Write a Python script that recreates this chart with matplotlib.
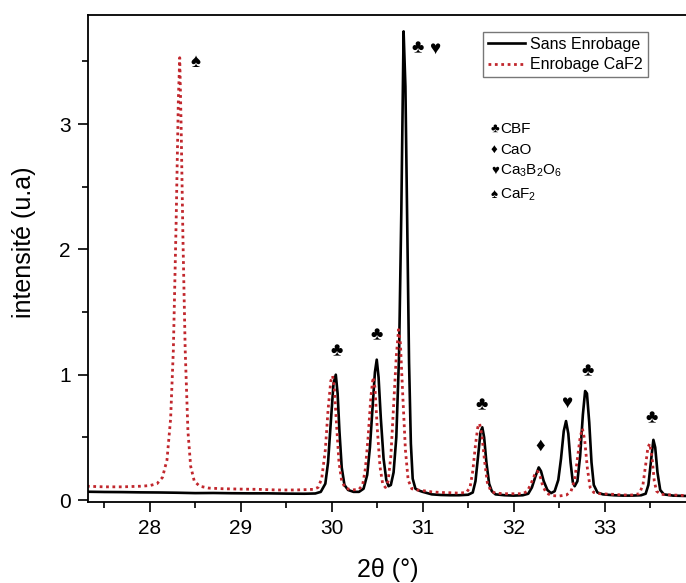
import matplotlib
matplotlib.use("Agg")
import matplotlib.pyplot as plt
from matplotlib.ticker import FixedLocator, MultipleLocator

plt.rcParams['font.family'] = ['Liberation Sans', 'DejaVu Sans']
plt.rcParams['mathtext.fontset'] = 'custom'
plt.rcParams['mathtext.rm'] = 'Liberation Sans'

# ---- data ----
sans_x = [27.31, 27.5, 27.7, 27.9, 28.1, 28.3, 28.5, 28.7, 28.9, 29.1, 29.3, 29.5, 29.7, 29.82,
          29.88, 29.93, 29.96, 29.99, 30.02, 30.045, 30.065, 30.085, 30.11, 30.14, 30.18, 30.24, 30.30, 30.35,
          30.39, 30.42, 30.45, 30.475, 30.495, 30.515, 30.54, 30.57, 30.60, 30.625, 30.65, 30.68, 30.71,
          30.74, 30.765, 30.79, 30.81, 30.83, 30.85, 30.87, 30.89, 30.92, 30.96, 31.0, 31.05, 31.1, 31.2,
          31.3, 31.4, 31.5,
          31.55, 31.58, 31.61, 31.635, 31.655, 31.675, 31.70, 31.73, 31.76, 31.80, 31.9, 32.0, 32.1, 32.16,
          32.20, 32.24, 32.275, 32.30, 32.33, 32.37, 32.41, 32.45, 32.49, 32.52, 32.55, 32.575, 32.60,
          32.625, 32.65, 32.67, 32.70, 32.73, 32.76, 32.785, 32.805, 32.83, 32.855, 32.88, 32.92, 32.98,
          33.1, 33.2, 33.3, 33.4, 33.45,
          33.48, 33.51, 33.535, 33.555, 33.58, 33.61, 33.65, 33.75, 33.9, 34.05]
sans_y = [0.066, 0.064, 0.063, 0.061, 0.060, 0.058, 0.055, 0.056, 0.054, 0.053, 0.053, 0.051, 0.050, 0.052,
          0.065, 0.13, 0.30, 0.62, 0.93, 1.00, 0.85, 0.55, 0.26, 0.12, 0.08, 0.065, 0.065, 0.09,
          0.20, 0.42, 0.75, 1.02, 1.12, 0.98, 0.65, 0.33, 0.16, 0.11, 0.12, 0.22, 0.50,
          1.15, 2.3, 3.74, 3.3, 2.2, 1.1, 0.45, 0.17, 0.09, 0.075, 0.065, 0.055, 0.045, 0.04,
          0.038, 0.038, 0.042,
          0.06, 0.15, 0.36, 0.54, 0.58, 0.50, 0.30, 0.13, 0.07, 0.045, 0.038, 0.035, 0.038, 0.05,
          0.10, 0.19, 0.26, 0.23, 0.15, 0.08, 0.055, 0.07, 0.16, 0.33, 0.55, 0.63, 0.53,
          0.30, 0.14, 0.11, 0.15, 0.35, 0.68, 0.87, 0.85, 0.62, 0.30, 0.12, 0.06, 0.045,
          0.038, 0.035, 0.035, 0.038, 0.05,
          0.12, 0.32, 0.48, 0.42, 0.22, 0.08, 0.045, 0.035, 0.032, 0.03]

caf2_x = [27.31, 27.5, 27.7, 27.9, 28.0, 28.08, 28.14, 28.19, 28.23, 28.26, 28.29, 28.315, 28.33,
          28.345, 28.365, 28.39, 28.42, 28.45, 28.49, 28.55, 28.65, 28.8, 29.0, 29.2, 29.4, 29.6, 29.8,
          29.85, 29.89, 29.93, 29.96, 29.99, 30.01, 30.03, 30.055, 30.08, 30.11, 30.15, 30.22, 30.30,
          30.34, 30.37, 30.40, 30.43, 30.455, 30.475, 30.50, 30.53, 30.56, 30.59, 30.62, 30.65, 30.68,
          30.71, 30.735, 30.755, 30.78, 30.81, 30.84, 30.88, 30.94, 31.0, 31.1, 31.2, 31.3, 31.4, 31.48,
          31.52, 31.55, 31.58, 31.605, 31.625, 31.65, 31.68, 31.71, 31.75, 31.8, 31.9, 32.0, 32.1,
          32.15, 32.19, 32.23, 32.26, 32.29, 32.32, 32.36, 32.42, 32.5, 32.58, 32.63, 32.67, 32.70,
          32.73, 32.755, 32.78, 32.81, 32.84, 32.88, 32.95, 33.1, 33.2, 33.3, 33.38,
          33.42, 33.45, 33.475, 33.495, 33.52, 33.545, 33.57, 33.62, 33.75, 33.9, 34.05]
caf2_y = [0.11, 0.105, 0.105, 0.11, 0.115, 0.13, 0.18, 0.32, 0.65, 1.2, 2.2, 3.2, 3.53,
          3.0, 2.1, 1.2, 0.55, 0.27, 0.15, 0.11, 0.095, 0.09, 0.087, 0.085, 0.08, 0.08, 0.085,
          0.10, 0.17, 0.40, 0.72, 0.95, 0.99, 0.88, 0.58, 0.30, 0.15, 0.095, 0.08, 0.085,
          0.12, 0.25, 0.50, 0.82, 0.98, 0.90, 0.58, 0.27, 0.13, 0.10, 0.15, 0.35, 0.75,
          1.15, 1.36, 1.25, 0.85, 0.40, 0.16, 0.09, 0.08, 0.075, 0.065, 0.06, 0.058, 0.055, 0.06,
          0.10, 0.23, 0.44, 0.58, 0.61, 0.52, 0.31, 0.14, 0.07, 0.055, 0.05, 0.05, 0.05,
          0.07, 0.13, 0.20, 0.23, 0.19, 0.11, 0.055, 0.035, 0.032, 0.04, 0.07, 0.16, 0.33,
          0.50, 0.57, 0.48, 0.25, 0.10, 0.06, 0.05, 0.045, 0.04, 0.04, 0.05,
          0.12, 0.28, 0.42, 0.45, 0.34, 0.15, 0.07, 0.045, 0.04, 0.035, 0.035]

series_labels = ["Sans Enrobage", "Enrobage CaF2"]

x_tick_values = [28, 29, 30, 31, 32, 33]
y_tick_values = [0, 1, 2, 3]

# peak markers: symbol, x, y
mark_sym = ["\u2660", "\u2663", "\u2665", "\u2663", "\u2663", "\u2663", "\u2666", "\u2665", "\u2663", "\u2663"]
mark_x = [28.50, 30.94, 31.13, 30.05, 30.49, 31.65, 32.29, 32.58, 32.81, 33.52]
mark_y = [3.49, 3.60, 3.60, 1.18, 1.31, 0.75, 0.43, 0.77, 1.02, 0.65]

phase_sym = ["\u2663", "\u2666", "\u2665", "\u2660"]
phase_txt = ["CBF", "CaO", r"$\mathregular{Ca_3B_2O_6}$", r"$\mathregular{CaF_2}$"]

# ---- figure ----
W, H = 686, 583
fig = plt.figure(figsize=(W / 100, H / 100), dpi=100)
left_px, right_px, top_px, bot_px = 87.5, 700, 15, 502
ax = fig.add_axes([left_px / W, 1 - bot_px / H, (right_px - left_px) / W, (bot_px - top_px) / H])

red = '#c1272d'
ax.plot(sans_x, sans_y, color='black', lw=1.9, label=series_labels[0])
ax.plot(caf2_x, caf2_y, color=red, lw=2.0, linestyle=(0, (1, 1.3)), label=series_labels[1])

x28 = 149.7
ppu = 91.0
ax.set_xlim(28 + (left_px - x28) / ppu, 28 + (right_px - x28) / ppu)
ypu = 125.3
ax.set_ylim((500 - bot_px) / ypu, (500 - top_px) / ypu)

ax.xaxis.set_major_locator(FixedLocator(x_tick_values))
ax.xaxis.set_minor_locator(MultipleLocator(0.5))
ax.yaxis.set_major_locator(FixedLocator(y_tick_values))
ax.yaxis.set_minor_locator(MultipleLocator(0.5))
ax.tick_params(which='major', direction='out', length=7, width=1.2, labelsize=15)
ax.tick_params(axis='x', which='major', pad=5)
ax.tick_params(axis='y', which='major', pad=5)
ax.tick_params(which='minor', direction='out', length=4.5, width=1.2)
for s in ax.spines.values():
    s.set_linewidth(1.3)

ax.set_xlabel("2\u03b8 (\u00b0)", fontsize=18)
ax.xaxis.set_label_coords((388 - left_px) / (right_px - left_px), -(570 - bot_px) / (bot_px - top_px))
ax.xaxis.label.set_va('center')
ax.set_ylabel("intensit\u00e9 (u.a)", fontsize=18)
ax.yaxis.set_label_coords(-(left_px - 24) / (right_px - left_px), (bot_px - 242) / (bot_px - top_px))
ax.yaxis.label.set_va('center')

for s, x, y in zip(mark_sym, mark_x, mark_y):
    ax.text(x, y, s, fontsize=13.5, ha='center', va='center', color='black')

leg = fig.legend(loc='upper left', bbox_to_anchor=(483 / W, 1 - 32 / H), borderaxespad=0,
                 fontsize=11.5, frameon=True, fancybox=False, edgecolor='#555555',
                 handlelength=2.3, handletextpad=0.35, borderpad=0.3, labelspacing=0.35)
leg.get_frame().set_linewidth(1.0)

phase_ypx = [129, 150, 171, 195]
for s, t, yp in zip(phase_sym, phase_txt, phase_ypx):
    fig.text(491 / W, 1 - yp / H, s, fontsize=9.5, ha='left', va='center')
    fig.text(500 / W, 1 - yp / H, t, fontsize=11, ha='left', va='center')

fig.savefig("out.png", dpi=100)
